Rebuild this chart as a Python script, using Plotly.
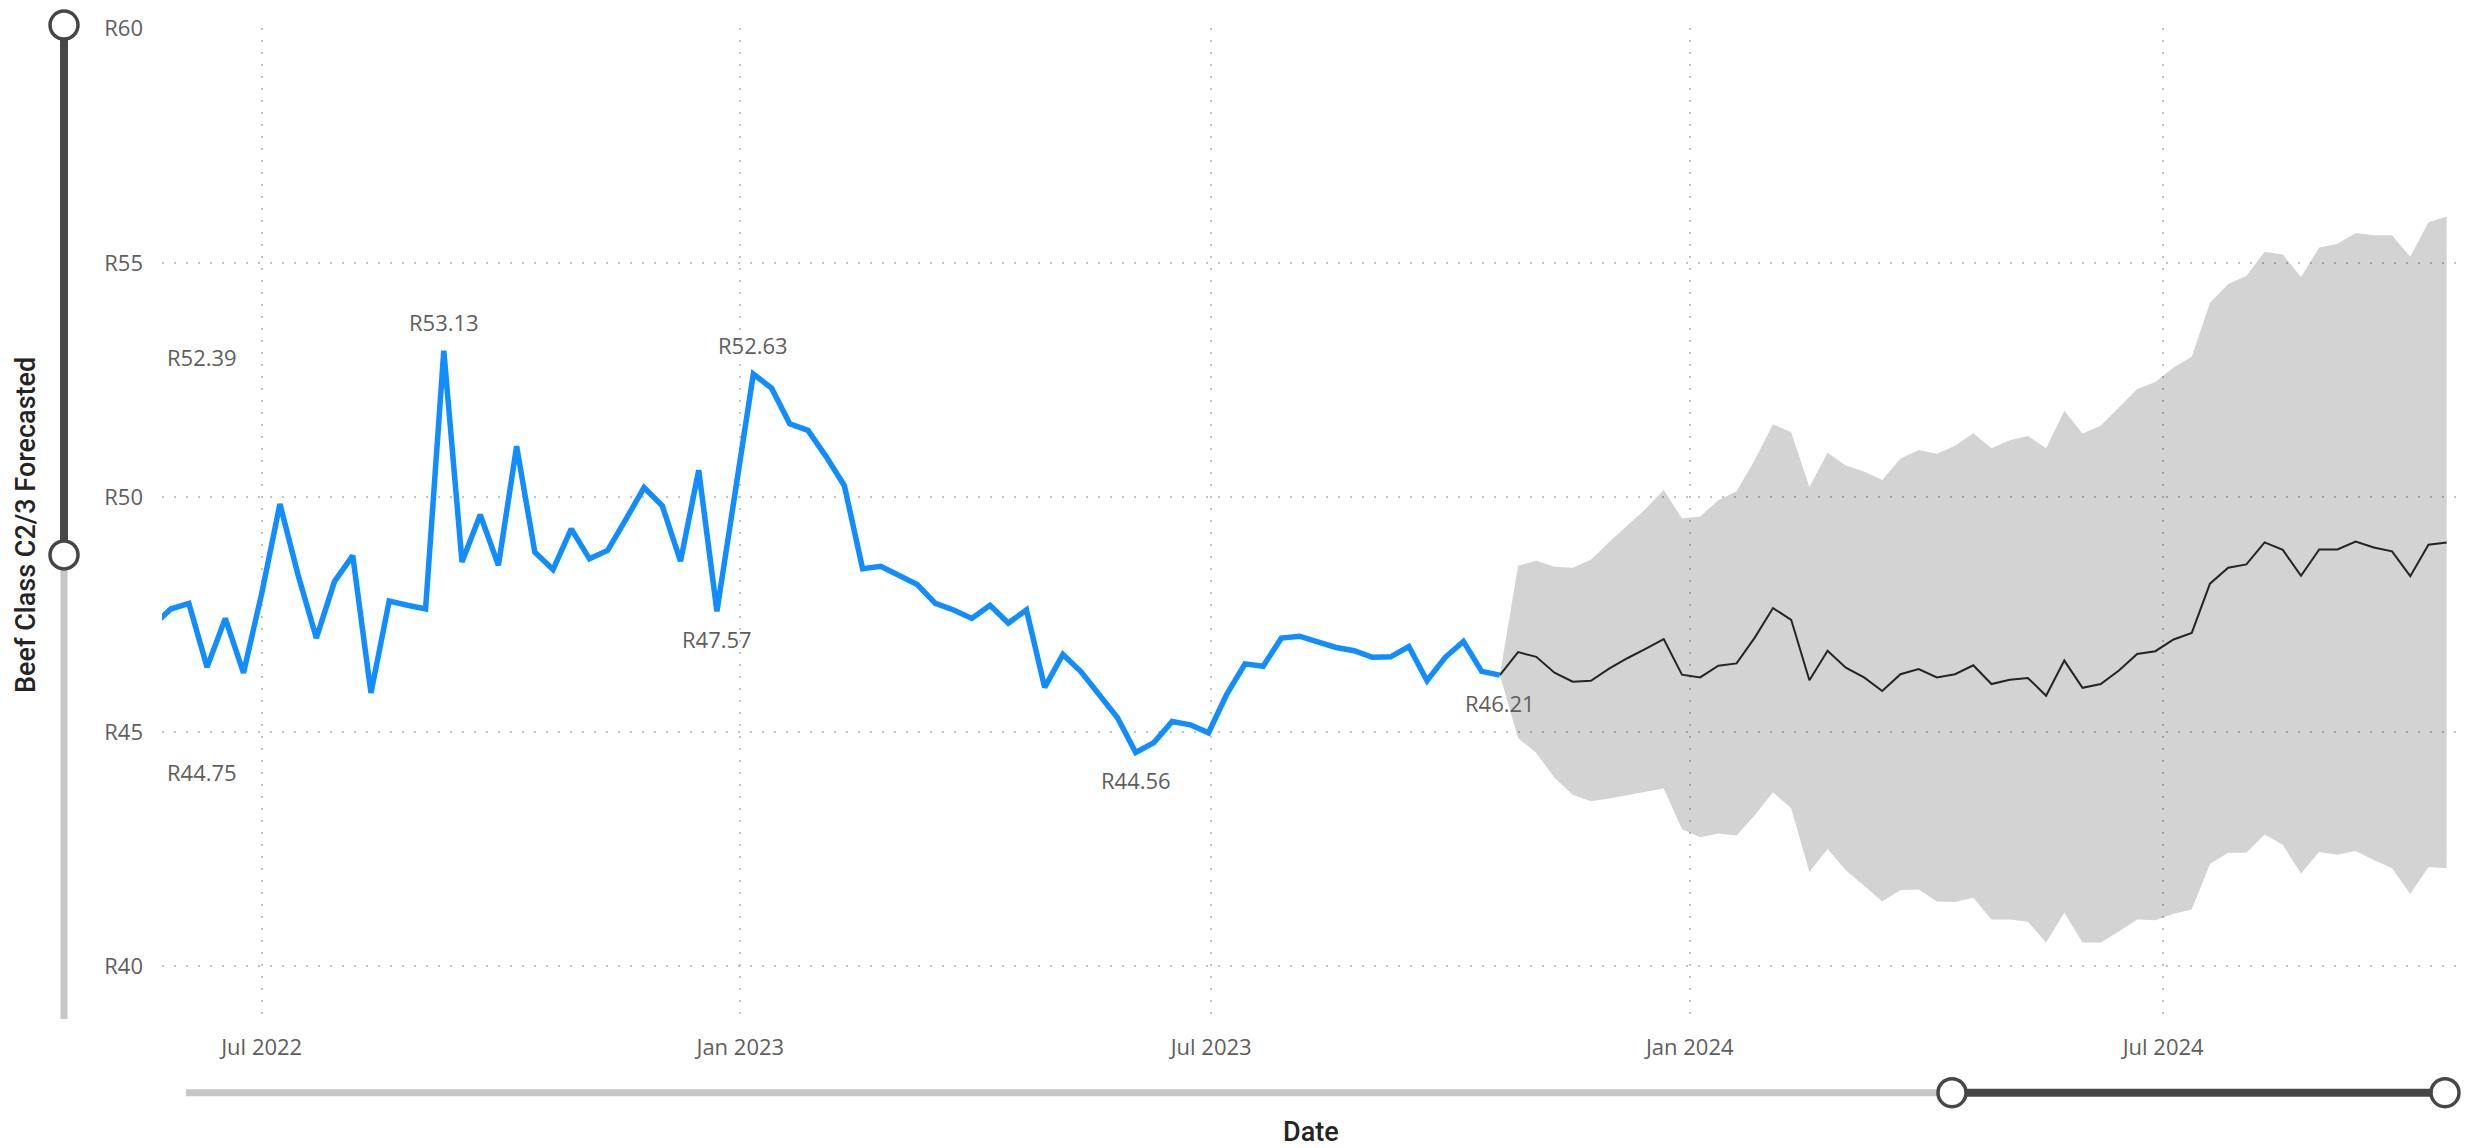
import pandas as pd
import plotly.graph_objects as go

# ---------------- data ----------------
actual_start = "2022-05-20"   # weekly (Fridays)
actual_values = [
    47.25, 47.62, 47.74, 46.38, 47.42, 46.26, 47.95, 49.86, 48.34, 47.00,
    48.21, 48.76, 45.83, 47.79, 47.70, 47.62, 53.13, 48.62, 49.63, 48.55,
    51.09, 48.83, 48.46, 49.33, 48.69, 48.87, 49.53, 50.21, 49.82, 48.64,
    50.58, 47.57, 50.10, 52.63, 52.33, 51.57, 51.43, 50.87, 50.25, 48.48,
    48.53, 48.34, 48.14, 47.74, 47.60, 47.42, 47.70, 47.32, 47.60, 45.95,
    46.65, 46.28, 45.80, 45.30, 44.56, 44.77, 45.22, 45.15, 44.98, 45.80,
    46.45, 46.40, 47.00, 47.04, 46.92, 46.80, 46.73, 46.59, 46.60, 46.82,
    46.09, 46.59, 46.93, 46.29, 46.21,
]

forecast_start = "2023-10-20"  # weekly, first value = last actual
forecast_mean = [
    46.21, 46.70, 46.60, 46.26, 46.07, 46.09, 46.35, 46.57, 46.77, 46.98,
    46.22, 46.16, 46.41, 46.46, 47.01, 47.64, 47.39, 46.10, 46.73, 46.37,
    46.16, 45.87, 46.23, 46.34, 46.16, 46.23, 46.42, 46.02, 46.11, 46.15,
    45.77, 46.52, 45.94, 46.02, 46.31, 46.66, 46.72, 46.97, 47.11, 48.16,
    48.50, 48.57, 49.04, 48.88, 48.33, 48.89, 48.89, 49.06, 48.93, 48.85,
    48.32, 48.99, 49.04,
]
forecast_upper = [
    46.21, 48.54, 48.65, 48.52, 48.50, 48.67, 49.05, 49.40, 49.75, 50.16,
    49.55, 49.59, 49.94, 50.13, 50.80, 51.56, 51.39, 50.22, 50.95, 50.68,
    50.55, 50.37, 50.83, 51.01, 50.93, 51.10, 51.37, 51.05, 51.22, 51.31,
    51.05, 51.85, 51.36, 51.53, 51.91, 52.31, 52.46, 52.77, 53.00, 54.15,
    54.55, 54.72, 55.24, 55.18, 54.70, 55.33, 55.41, 55.64, 55.59, 55.59,
    55.13, 55.87, 55.99,
]
forecast_lower = [
    46.21, 44.87, 44.55, 44.02, 43.66, 43.52, 43.58, 43.65, 43.72, 43.79,
    42.93, 42.75, 42.83, 42.79, 43.22, 43.71, 43.37, 42.01, 42.50, 42.05,
    41.72, 41.38, 41.63, 41.64, 41.38, 41.37, 41.46, 41.00, 41.00, 40.95,
    40.51, 41.14, 40.51, 40.51, 40.74, 41.00, 40.98, 41.12, 41.21, 42.18,
    42.42, 42.42, 42.81, 42.59, 41.98, 42.44, 42.38, 42.46, 42.27, 42.09,
    41.54, 42.12, 42.09,
]

y_ticks = [40, 45, 50, 55, 60]
x_ticks = ["2022-07-01", "2023-01-01", "2023-07-01", "2024-01-01", "2024-07-01"]
x_range = ["2022-05-23 16:00", "2024-10-21 14:00"]
y_range = [38.77, 60.01]

labeled_idx = [16, 31, 33, 54, 74]
labeled_above = [True, False, True, False, False]
edge_label_date = "2022-06-08"
edge_label_values = [52.39, 44.75]

# ---------------- styling ----------------
W, H = 2474, 1148
ML, MR, MT, MB = 162, 18, 24, 124
PW, PH = W - ML - MR, H - MT - MB

BLUE = "#118DFF"
LABEL = "#605E5C"
TITLE = "#252423"
DARK = "#484644"
LIGHT = "#C8C6C4"
TICKFONT = "Segoe UI, Open Sans, sans-serif"
TITLEFONT = "DIN, Roboto, sans-serif"


def px(xp):
    return (xp - ML) / PW


def py(yp):
    return (MT + PH - yp) / PH


actual_dates = pd.date_range(actual_start, periods=len(actual_values), freq="7D")
forecast_dates = pd.date_range(forecast_start, periods=len(forecast_mean), freq="7D")

fig = go.Figure()

# confidence band
fig.add_trace(go.Scatter(x=forecast_dates, y=forecast_upper, mode="lines",
                         line=dict(width=0), hoverinfo="skip", showlegend=False))
fig.add_trace(go.Scatter(x=forecast_dates, y=forecast_lower, mode="lines",
                         line=dict(width=0), fill="tonexty",
                         fillcolor="rgba(0,0,0,0.173)", hoverinfo="skip",
                         showlegend=False))
# forecast line
fig.add_trace(go.Scatter(x=forecast_dates, y=forecast_mean, mode="lines",
                         line=dict(color="#252423", width=2), showlegend=False))
# actual line
fig.add_trace(go.Scatter(x=actual_dates, y=actual_values, mode="lines",
                         line=dict(color=BLUE, width=5.5), showlegend=False))

annotations = []
for i, above in zip(labeled_idx, labeled_above):
    v = actual_values[i]
    annotations.append(dict(x=actual_dates[i], y=v, xref="x", yref="y",
                            text=f"R{v:.2f}", showarrow=False,
                            yshift=29 if above else -28,
                            font=dict(family=TICKFONT, size=22, color=LABEL)))
for v, above in zip(edge_label_values, [True, False]):
    annotations.append(dict(x=edge_label_date, y=v, xref="x", yref="y",
                            text=f"R{v:.2f}", showarrow=False,
                            yshift=28 if above else -28,
                            font=dict(family=TICKFONT, size=22, color=LABEL)))

# axis titles
annotations.append(dict(x=px(1311), y=py(1132), xref="paper", yref="paper",
                        xanchor="center", yanchor="middle",
                        text="Date", showarrow=False,
                        font=dict(family=TITLEFONT, size=27, color=TITLE,
                                  weight=500)))
annotations.append(dict(x=px(26), y=py(523), xref="paper", yref="paper",
                        xanchor="center", yanchor="middle",
                        text="Beef Class C2/3 Forecasted", showarrow=False,
                        textangle=-90,
                        font=dict(family=TITLEFONT, size=27, color=TITLE,
                                  weight=500)))

# zoom sliders (UI chrome)
shapes = []
shapes.append(dict(type="line", xref="paper", yref="paper",
                   x0=px(64), x1=px(64), y0=py(553), y1=py(1019),
                   line=dict(color=LIGHT, width=7)))
shapes.append(dict(type="line", xref="paper", yref="paper",
                   x0=px(64), x1=px(64), y0=py(21), y1=py(553),
                   line=dict(color=DARK, width=8)))
shapes.append(dict(type="line", xref="paper", yref="paper",
                   x0=px(186), x1=px(1952), y0=py(1093), y1=py(1093),
                   line=dict(color=LIGHT, width=7)))
shapes.append(dict(type="line", xref="paper", yref="paper",
                   x0=px(1952), x1=px(2445), y0=py(1093), y1=py(1093),
                   line=dict(color=DARK, width=8)))
for cx, cy in [(64, 21), (64, 553), (1952, 1093), (2445, 1093)]:
    shapes.append(dict(type="circle", xref="paper", yref="paper",
                       xsizemode="pixel", ysizemode="pixel",
                       xanchor=px(cx), yanchor=py(cy),
                       x0=-14, x1=14, y0=-14, y1=14,
                       fillcolor="white", line=dict(color=DARK, width=3.5)))

fig.update_layout(
    width=W, height=H,
    margin=dict(l=ML, r=MR, t=MT, b=MB),
    paper_bgcolor="white", plot_bgcolor="white",
    showlegend=False,
    annotations=annotations,
    shapes=shapes,
    xaxis=dict(range=x_range, type="date", tickvals=x_ticks, tickformat="%b %Y",
               showgrid=True, gridcolor="#C2C2C2", gridwidth=2,
               griddash="2px,10px", zeroline=False, showline=False,
               ticks="", ticklabelstandoff=8,
               tickfont=dict(family=TICKFONT, size=22, color=LABEL)),
    yaxis=dict(range=y_range, tickvals=y_ticks,
               ticktext=[f"R{v}" for v in y_ticks],
               showgrid=True, gridcolor="#C2C2C2", gridwidth=2,
               griddash="2px,10px", zeroline=False, showline=False,
               ticks="", ticklabelstandoff=18,
               tickfont=dict(family=TICKFONT, size=22, color=LABEL)),
)

fig.write_html("out.html",
               config={"displayModeBar": False},
               post_script="document.body.style.margin='0';document.body.style.overflow='hidden';")
